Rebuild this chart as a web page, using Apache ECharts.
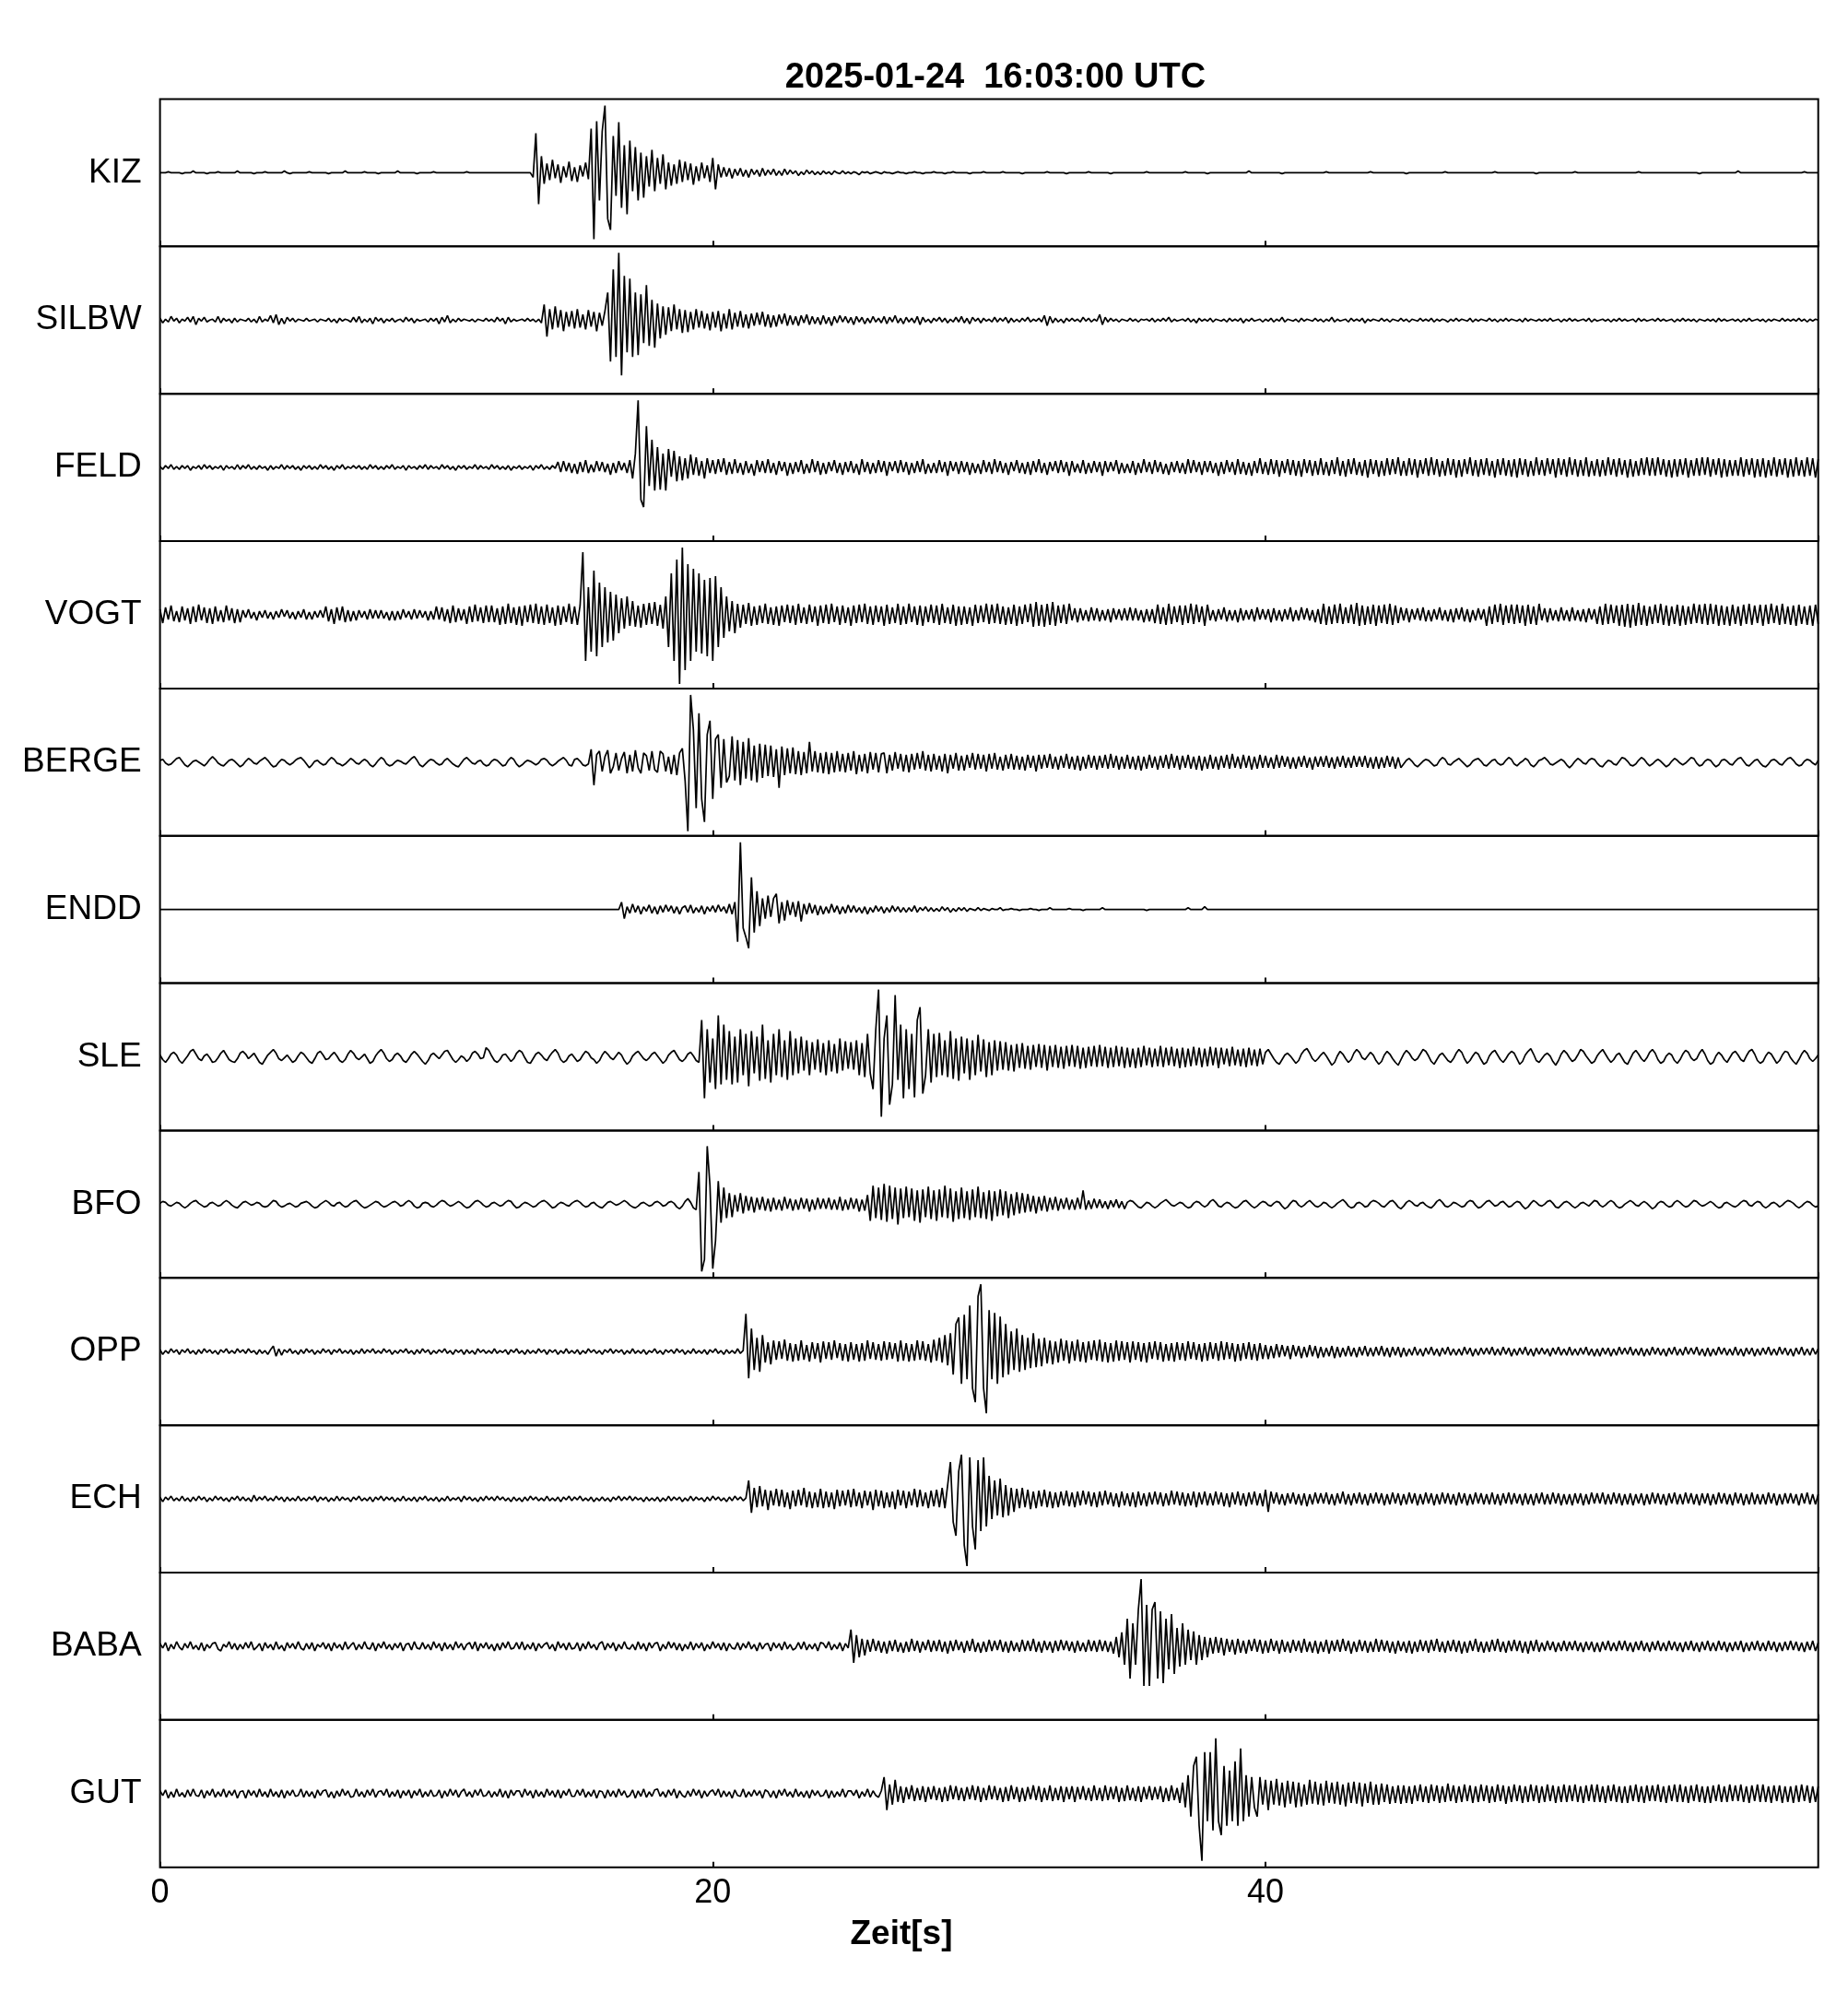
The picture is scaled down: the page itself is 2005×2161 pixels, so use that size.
<!DOCTYPE html>
<html><head><meta charset="utf-8">
<script src="https://cdn.jsdelivr.net/npm/echarts@6/dist/echarts.min.js"></script>
<style>html,body{margin:0;padding:0;background:#fff}#c{width:2005px;height:2161px}</style>
</head><body><div id="c"></div>
<script>
// ---- data: one value per 0.1 s (one line = 1 s), amplitude in panel units (-80..80) ----
const stations = ['KIZ','SILBW','FELD','VOGT','BERGE','ENDD','SLE','BFO','OPP','ECH','BABA','GUT'];
const xTickLabels = ['0','20','40'];
const DT = 0.1;

const KIZ = [
0,0,0,1,0,0,0,0,-1,0,
0,0,2,0,0,0,0,-1,0,0,
0,1,0,0,0,0,0,0,2,0,
0,0,0,0,-1,0,0,0,1,0,
0,0,0,0,0,2,0,-1,0,0,
0,0,0,0,1,0,0,0,0,0,
0,-1,0,0,0,0,0,2,0,0,
0,0,0,0,1,0,0,0,0,-1,
0,0,0,0,0,0,2,0,0,0,
0,0,0,-1,0,0,0,0,0,1,
0,0,0,0,0,0,0,0,0,0,
0,1,0,0,0,0,0,0,0,0,
0,0,0,0,0,0,0,0,0,0,
0,0,0,0,0,-5,43,-34,18,-12,
10,-8,14,-6,9,-11,7,-5,12,-9,
6,-10,8,-4,11,-7,48,-72,56,-30,
45,73,-50,-62,40,-25,55,-38,30,-45,
35,-20,28,-30,22,-27,18,-15,25,-20,
16,-12,20,-18,11,-14,9,-12,14,-10,
12,-8,10,-13,7,-9,11,-6,8,-10,
16,-18,9,-5,6,-4,5,-6,4,-3,
5,-4,3,-5,4,-2,3,-4,5,-3,
3,-2,4,-3,2,-3,4,-2,3,-1,
2,-3,1,-2,3,-1,2,-2,1,-2,
2,-1,1,-2,2,0,-1,2,-1,1,
-1,1,0,-2,1,0,1,-1,0,1,
0,-1,1,0,0,-1,0,1,0,0,
-1,0,0,1,0,0,-1,0,0,0,
1,0,0,0,-1,0,0,1,0,0,
0,0,0,-1,0,0,0,0,1,0,
0,0,0,0,0,1,0,0,0,0,
0,0,-1,0,0,0,0,0,0,0,
0,1,0,0,0,0,0,0,-1,0,
0,0,0,0,0,0,1,0,0,0,
0,0,0,0,-1,0,0,0,0,0,
0,0,0,0,0,0,0,1,0,0,
0,0,0,0,0,0,0,0,0,0,
0,1,0,0,0,0,0,0,0,-1,
0,0,0,0,0,0,0,0,0,0,
0,0,0,0,2,0,0,0,0,0,
0,0,0,0,0,0,-1,0,0,0,
0,0,0,0,0,0,0,0,0,0,
0,0,1,0,0,0,0,0,0,0,
0,0,0,0,0,0,0,0,1,0,
0,0,0,0,0,0,0,0,0,0,
0,-1,0,0,0,0,0,0,0,0,
0,0,0,0,0,1,0,0,0,0,
0,0,0,0,0,0,0,0,0,0,
0,0,0,1,0,0,0,0,0,0,
0,0,0,0,0,0,0,0,-1,0,
0,0,0,0,0,0,0,0,0,0,
0,0,1,0,0,0,0,0,0,0,
0,0,0,0,0,0,0,0,0,0,
0,0,0,0,0,1,0,0,0,0,
0,0,0,0,0,0,0,0,0,0,
0,0,0,0,0,0,0,-1,0,0,
0,0,0,0,0,0,0,0,0,0,
0,2,0,0,0,0,0,0,0,0,
0,0,0,0,0,0,0,0,0,0,
0,0,0,0,0,1,0,0,0,0,
0];
const SILBW = [
2,-3,1,-2,4,-1,2,-3,1,-1,
3,-2,4,-5,2,-1,3,-2,0,1,
-2,4,-3,2,-1,1,-3,2,-2,1,
0,-1,2,-2,1,-3,4,-2,1,-1,
5,-3,6,-5,2,-4,3,-1,2,-2,
1,0,-1,2,-1,0,1,-2,1,0,
-1,2,-2,1,-3,2,-1,1,0,-2,
3,-2,4,-3,1,-2,2,-4,3,-1,
2,-3,1,-1,2,-2,0,1,-2,3,
-1,2,-3,1,-1,0,1,-2,2,-1,
2,-4,3,-2,5,-3,1,-2,2,-1,
1,0,-1,1,-2,1,0,-1,2,-1,
1,-2,3,-1,2,-4,3,-2,1,-1,
0,1,-1,2,-1,1,-2,1,-3,17,
-18,12,-10,15,-8,11,-12,9,-7,10,
-9,12,-8,6,-10,11,-7,9,-12,8,
-6,10,30,-45,55,-40,73,-60,48,-35,
45,-40,30,-38,28,-25,38,-28,22,-30,
18,-20,15,-16,14,-12,17,-10,12,-14,
11,-13,9,-10,12,-8,10,-9,7,-11,
9,-8,10,-12,7,-9,12,-10,8,-7,
10,-8,6,-9,7,-6,8,-5,9,-7,
6,-8,5,-7,6,-4,7,-6,5,-5,
4,-6,5,-3,6,-5,4,-4,3,-5,
5,-4,3,-6,4,-3,5,-2,4,-3,
3,-5,4,-2,3,-4,2,-3,4,-2,
2,-3,4,-4,3,-2,5,-3,2,-4,
3,-2,2,-3,4,-5,3,-2,1,-3,
2,-1,3,-2,2,-3,1,-2,3,-2,
4,-3,2,-4,3,-1,2,-3,2,-1,
1,-2,3,-2,2,-1,3,-3,2,-2,
1,-2,2,-1,3,-2,1,-1,2,-2,
5,-6,4,-3,2,-2,1,-3,2,-1,
2,-1,1,-2,3,-1,2,-2,1,-1,
6,-5,3,-2,2,-1,1,-2,1,0,
-1,2,-1,1,-2,1,0,1,-1,2,
-2,1,-1,2,-1,3,-2,1,-1,0,
1,-1,2,-2,1,-3,2,-1,1,-1,
2,-2,1,0,-1,1,-2,2,-1,1,
-1,2,-3,1,-1,2,-1,0,1,-2,
1,-1,2,-2,1,-1,3,-2,1,0,
-1,1,-2,2,-1,1,0,-1,2,-1,
1,-2,1,-1,3,-2,1,-1,0,1,
-2,2,-1,1,-1,2,-3,1,-1,1,
0,-1,2,-1,1,-2,1,0,-1,2,
-1,1,-2,1,0,-1,2,-1,1,-1,
2,-2,1,-1,1,0,-2,1,-1,2,
-1,1,0,-1,2,-2,1,-1,1,0,
-1,2,-1,1,-2,1,-1,2,-1,1,
0,-1,1,-2,2,-1,1,0,-1,1,
-1,1,-1,2,-1,0,1,-2,1,-1,
2,-1,1,-1,0,1,-1,2,-2,1,
-1,0,1,-1,1,-2,1,-1,2,-1,
1,-1,0,1,-2,2,-1,1,-1,0,
1,-1,2,-1,1,-1,0,1,-2,1,
-1,2,-1,1,-1,1,-2,1,0,-1,
1,-1,1,-2,2,-1,1,-1,0,1,
-1,1,-2,1,-1,2,-1,0,1,-1,
1,-2,1,-1,1,0,-1,2,-1,1,
-1,1,-1,2,-1,1,-2,1,-1,1,
0];
const FELD = [
1,-2,2,-1,3,-2,1,-2,2,-1,
2,-3,1,-1,2,-2,3,-1,2,-2,
1,-1,2,-3,2,-1,1,-2,3,-2,
2,-1,3,-2,1,-2,2,-1,1,-3,
2,-2,1,-1,3,-2,2,-1,2,-2,
1,-3,2,-1,2,-2,1,-2,3,-1,
2,-2,1,-3,2,-1,3,-2,1,-1,
2,-1,2,-2,1,-2,3,-1,2,-2,
1,-2,2,-1,3,-2,1,-1,2,-3,
2,-1,1,-2,2,-1,3,-2,2,-1,
1,-2,3,-1,2,-2,1,-3,2,-1,
2,-2,1,-1,3,-2,2,-1,1,-2,
3,-1,2,-2,1,-2,2,-3,1,-1,
2,-2,1,-1,2,-3,2,-1,3,-2,
1,-2,2,-1,6,-5,7,-4,5,-6,
4,-7,6,-5,8,-6,3,-5,7,-4,
6,-5,4,-8,5,-6,7,-3,5,-6,
8,-12,15,73,-35,-43,45,-20,30,-25,
22,-24,15,-25,20,-10,18,-15,12,-14,
10,-12,14,-8,11,-9,7,-12,10,-6,
8,-7,9,-5,10,-8,6,-7,9,-6,
5,-8,7,-6,4,-9,8,-5,7,-6,
9,-6,5,-8,7,-4,6,-9,5,-7,
6,-5,8,-7,4,-6,9,-5,7,-8,
5,-7,6,-4,8,-6,5,-8,6,-5,
7,-6,4,-8,9,-5,6,-7,5,-6,
8,-5,7,-9,6,-4,7,-6,8,-5,
6,-8,5,-6,7,-5,9,-7,4,-6,
5,-6,8,-5,6,-9,7,-4,6,-7,
7,-5,6,-8,5,-6,4,-7,8,-5,
6,-7,9,-5,7,-6,5,-8,6,-4,
8,-6,5,-7,6,-8,7,-5,9,-6,
5,-8,6,-4,7,-6,8,-5,6,-9,
7,-5,4,-6,8,-7,5,-6,7,-5,
6,-9,7,-5,6,-4,8,-7,5,-6,
4,-6,7,-8,5,-6,9,-5,6,-7,
8,-5,6,-7,4,-8,6,-5,7,-6,
5,-7,9,-6,8,-5,6,-8,7,-5,
7,-6,5,-9,6,-7,8,-5,6,-8,
9,-7,6,-8,5,-9,7,-6,10,-7,
6,-8,9,-7,8,-10,7,-6,9,-8,
8,-9,7,-10,9,-6,8,-9,7,-8,
10,-8,6,-9,8,-7,11,-9,7,-10,
9,-7,10,-8,6,-9,8,-11,9,-7,
8,-10,7,-9,10,-8,9,-7,11,-9,
7,-9,10,-8,9,-11,8,-7,10,-9,
11,-8,9,-10,7,-9,10,-8,9,-11,
8,-10,9,-7,11,-9,8,-10,9,-8,
10,-9,7,-11,9,-8,10,-9,8,-10,
9,-11,10,-8,9,-10,7,-9,11,-8,
8,-9,10,-7,9,-11,10,-8,9,-10,
11,-8,9,-10,8,-9,11,-10,7,-9,
9,-10,8,-9,11,-8,9,-10,10,-8,
8,-11,9,-10,7,-9,10,-8,11,-9,
10,-9,11,-8,9,-10,8,-11,9,-10,
9,-8,10,-11,8,-9,10,-9,11,-8,
11,-10,9,-8,10,-11,9,-10,8,-9,
8,-9,11,-10,9,-8,10,-11,9,-10,
10,-11,8,-9,11,-10,9,-8,10,-11,
9,-10,11,-9,8,-10,11,-9,10,-11,
9];
const VOGT = [
6,-9,8,-5,10,-7,4,-8,9,-6,
7,-10,9,-8,11,-6,8,-9,7,-10,
9,-7,5,-8,10,-6,7,-9,6,-8,
5,-3,6,-4,3,-6,4,-3,5,-4,
3,-5,4,-3,6,-2,5,-4,3,-5,
4,-3,6,-5,3,-5,4,-3,5,-3,
9,-7,6,-10,8,-6,9,-8,5,-7,
4,-6,5,-3,4,-5,6,-4,5,-4,
5,-4,3,-6,4,-6,4,-5,6,-3,
4,-5,6,-4,5,-3,4,-6,4,-5,
9,-5,8,-7,6,-9,10,-8,7,-6,
6,-10,9,-8,11,-7,8,-9,10,-8,
10,-8,7,-11,9,-10,12,-9,8,-11,
9,-12,10,-8,11,-9,12,-10,9,-11,
11,-9,8,-12,10,-11,9,-8,12,-10,
9,-11,10,68,-50,30,-40,48,-45,35,
-35,30,-30,25,-28,22,-20,18,-15,20,
-12,15,-13,10,-14,12,-11,13,-10,14,
-12,11,-15,20,-35,45,-50,60,-75,73,
-60,55,-50,50,-40,45,-42,38,-45,40,
-50,42,-35,30,-25,20,-18,15,-20,12,
-14,11,-10,13,-12,9,-11,10,-9,12,
-10,8,-11,9,-12,10,-8,11,-9,10,
-11,12,-9,8,-10,11,-8,9,-12,10,
-9,11,-10,12,-8,9,-11,10,-9,8,
-12,10,-9,11,-8,12,-10,9,-11,10,
-8,9,-12,11,-10,8,-9,12,-11,9,
-10,12,-8,9,-11,10,-12,9,-8,11,
-9,10,-11,12,-9,8,-10,11,-12,9,
-11,9,-10,8,-12,11,-9,10,-8,12,
-10,11,-9,12,-10,9,-11,8,-10,11,
-12,9,-10,11,-8,12,-13,14,-12,11,
-13,12,-11,14,-12,10,-9,11,-10,12,
-6,7,-8,7,-6,5,-7,8,-6,7,
-7,5,-6,6,-8,7,-5,6,-6,7,
-6,8,-6,7,-6,5,-8,6,-7,6,
-9,11,-10,8,-11,12,-10,9,-8,10,
-11,10,-9,12,-10,11,-8,9,-12,11,
-6,5,-7,6,-5,8,-7,5,-6,5,
-8,7,-6,5,-5,6,-7,8,-5,6,
-5,6,-8,7,-6,5,-7,6,-5,8,
-7,5,-6,8,-5,7,-6,5,-8,6,
-10,12,-11,9,-10,11,-9,12,-10,8,
-9,11,-10,13,-12,10,-11,9,-10,11,
-12,10,-9,11,-10,12,-11,10,-9,8,
-6,7,-8,6,-5,7,-6,8,-7,5,
-7,6,-5,8,-6,5,-7,6,-8,7,
-5,8,-7,6,-8,5,-6,7,-5,6,
-12,9,-10,11,-8,12,-11,10,-9,11,
-10,11,-9,10,-12,11,-10,9,-11,12,
-6,7,-8,7,-6,5,-7,8,-6,5,
-7,8,-6,5,-7,6,-8,7,-5,6,
-10,9,-11,12,-10,11,-9,10,-12,11,
-13,12,-14,11,-12,13,-11,10,-12,9,
-10,11,-9,12,-11,10,-12,9,-10,11,
-12,10,-11,9,-10,12,-9,11,-10,12,
-11,12,-10,11,-12,10,-11,9,-12,11,
-10,9,-12,11,-10,12,-11,10,-9,11,
-12,11,-10,12,-9,10,-11,12,-10,9,
-11,10,-12,11,-10,9,-11,10,-12,11,
-10];
const BERGE = [
2,3,-1,-3,-2,1,4,5,1,-3,
-5,-2,1,2,0,-2,-4,-1,3,6,
3,-1,-3,-4,-1,2,3,1,-2,-5,
-3,1,4,2,-1,-2,1,3,5,2,
-2,-5,-4,0,3,2,-1,-3,-1,2,
4,5,2,-2,-6,-3,1,2,-1,-3,
-2,2,5,3,-1,-2,-4,-2,1,4,
2,-1,-2,1,3,1,-3,-5,-2,2,
5,3,-2,-4,-3,0,2,1,-1,-2,
1,4,6,2,-3,-5,-2,1,3,2,
-1,-3,-2,2,4,1,-2,-4,-5,-1,
3,5,2,-1,-2,1,2,-2,-4,-3,
1,3,2,-1,-4,-3,2,5,3,-2,
-5,-3,0,2,1,-1,-3,-1,3,4,
2,-2,-4,-2,1,3,5,2,-3,-4,
3,4,1,-3,-4,-2,14,-25,8,12,
-10,6,13,-12,-5,10,-9,4,11,-12,
8,-10,13,-6,-12,10,7,-9,12,-8,
-11,12,9,-10,6,-13,8,-14,10,15,
-20,-75,73,35,-50,53,-40,-65,30,45,
-40,25,30,-28,25,-22,-15,28,-20,24,
-25,22,-18,26,-20,18,-22,20,-17,19,
-15,18,-16,14,-28,17,-14,15,-12,16,
-13,12,-14,11,-12,22,-10,12,-11,10,
-12,11,-13,10,-11,12,-10,9,-11,10,
-9,12,-13,8,-10,9,-12,11,-8,10,
-11,9,10,-12,8,-9,11,-7,9,-10,
8,-11,9,-8,10,-7,12,-9,8,-10,
9,-8,7,-10,9,-12,8,-7,10,-9,
7,-9,8,-6,10,-8,9,-7,8,-10,
9,-7,10,-8,6,-9,8,-7,9,-8,
7,-8,6,-9,8,-6,7,-10,8,-7,
8,-6,9,-7,6,-8,7,-6,9,-7,
6,-8,7,-9,6,-7,8,-6,7,-8,
7,-6,8,-7,9,-6,7,-8,6,-7,
8,-7,6,-8,7,-9,6,-7,8,-6,
6,-8,7,-6,8,-7,9,-6,7,-8,
7,-6,8,-7,6,-8,7,-9,6,-7,
8,-7,6,-8,7,-6,8,-7,9,-6,
6,-7,8,-6,7,-8,6,-7,8,-6,
7,-6,5,-7,8,-6,7,-5,6,-7,
5,-7,6,-5,7,-6,5,-8,6,-5,
6,-5,7,-6,5,-7,6,-5,7,-6,
5,-6,7,-5,6,-5,7,-6,5,-7,
6,-7,5,-6,7,-5,6,-7,5,-6,
-2,2,4,1,-3,-5,-2,1,3,2,
-1,-4,-3,2,5,3,-2,-3,0,2,
4,1,-2,-5,-3,1,3,4,1,-3,
-4,-1,2,3,-1,-3,-2,2,5,3,
-2,-4,-1,1,4,2,-3,-5,-2,2,
3,5,2,-2,-3,-1,1,3,1,-3,
-6,-3,1,4,2,-1,-2,2,4,3,
-1,-4,-5,-1,2,1,-2,-3,1,5,
4,1,-3,-4,-2,2,5,3,-1,-4,
-2,1,3,1,-2,-5,-3,1,4,2,
-1,-3,-1,2,5,4,-1,-4,-3,1,
3,2,-2,-5,-3,2,3,1,-2,-3,
1,4,5,1,-3,-4,-1,2,3,-1,
-4,-5,-2,2,3,1,-2,-3,1,4,
5,2,-2,-4,-3,1,3,2,-1,-3,
2];
const ENDD = [
0,0,0,0,0,0,0,0,0,0,
0,0,0,0,0,0,0,0,0,0,
0,0,0,0,0,0,0,0,0,0,
0,0,0,0,0,0,0,0,0,0,
0,0,0,0,0,0,0,0,0,0,
0,0,0,0,0,0,0,0,0,0,
0,0,0,0,0,0,0,0,0,0,
0,0,0,0,0,0,0,0,0,0,
0,0,0,0,0,0,0,0,0,0,
0,0,0,0,0,0,0,0,0,0,
0,0,0,0,0,0,0,0,0,0,
0,0,0,0,0,0,0,0,0,0,
0,0,0,0,0,0,0,0,0,0,
0,0,0,0,0,0,0,0,0,0,
0,0,0,0,0,0,0,0,0,0,
0,0,0,0,0,0,0,0,0,0,
0,0,0,0,0,0,0,8,-10,3,
-4,6,-3,4,-5,3,-2,5,-4,3,
-5,4,-3,5,-2,4,-4,3,-5,2,
4,-3,5,-4,2,-3,4,-5,3,-2,
4,-3,5,-2,3,-4,6,-5,8,-35,
73,-20,-30,-42,35,-25,20,-18,12,-10,
15,-8,12,17,-15,8,-12,10,-6,8,
-8,9,-13,6,-5,7,-4,5,-6,4,
-5,3,-4,6,-3,4,-5,3,-4,5,
-3,4,-3,2,-4,3,-5,2,-3,4,
-2,3,-4,2,-3,4,-2,3,-3,2,
-3,2,-2,4,-3,2,-1,3,-2,2,
-2,1,-2,3,-1,2,-3,1,-2,2,
-1,2,-2,1,0,-1,2,-1,1,0,
-1,1,0,0,2,-1,0,0,1,0,
0,-1,0,0,0,1,0,0,-1,0,
0,0,2,0,0,0,0,0,0,1,
0,0,0,0,-1,0,0,0,0,0,
0,2,0,0,0,0,0,0,0,0,
0,0,0,0,0,0,0,-1,0,0,
0,0,0,0,0,0,0,0,0,0,
0,0,2,0,0,0,0,0,3,0,
0,0,0,0,0,0,0,0,0,0,
0,0,0,0,0,0,0,0,0,0,
0,0,0,0,0,0,0,0,0,0,
0,0,0,0,0,0,0,0,0,0,
0,0,0,0,0,0,0,0,0,0,
0,0,0,0,0,0,0,0,0,0,
0,0,0,0,0,0,0,0,0,0,
0,0,0,0,0,0,0,0,0,0,
0,0,0,0,0,0,0,0,0,0,
0,0,0,0,0,0,0,0,0,0,
0,0,0,0,0,0,0,0,0,0,
0,0,0,0,0,0,0,0,0,0,
0,0,0,0,0,0,0,0,0,0,
0,0,0,0,0,0,0,0,0,0,
0,0,0,0,0,0,0,0,0,0,
0,0,0,0,0,0,0,0,0,0,
0,0,0,0,0,0,0,0,0,0,
0,0,0,0,0,0,0,0,0,0,
0,0,0,0,0,0,0,0,0,0,
0,0,0,0,0,0,0,0,0,0,
0,0,0,0,0,0,0,0,0,0,
0,0,0,0,0,0,0,0,0,0,
0];
const SLE = [
2,-3,-6,-2,3,5,2,-4,-7,-3,
1,6,8,3,-2,-4,1,3,-1,-6,
-5,-1,4,7,2,-3,-5,-6,-2,4,
6,3,-2,1,4,-1,-6,-8,-3,2,
5,8,4,-2,-4,-1,2,-2,-6,-4,
1,5,3,-1,-5,-7,-2,4,6,2,
-3,-2,2,5,1,-4,-6,-3,3,7,
4,-1,-3,0,3,-2,-7,-5,1,5,
8,4,-2,-5,-3,2,4,1,-4,-6,
-2,3,6,3,-1,-5,-8,-4,2,4,
1,-2,2,6,7,2,-3,-6,-3,1,
-1,-5,-2,4,6,3,-2,-1,10,7,
1,-4,-6,-3,2,3,-1,-5,-2,4,
7,5,-1,-6,-7,-2,3,5,2,-2,
-4,1,5,8,4,-3,-6,-4,1,3,
-1,-5,-3,2,6,4,-1,-3,-7,-4,
2,6,3,-1,-3,1,5,2,-4,-8,
-5,1,4,6,2,-2,-4,-1,3,5,
1,-3,-7,-4,2,5,7,2,-3,-5,
-2,3,5,1,-4,-6,40,-45,30,-28,
20,-35,45,-30,35,-25,28,-30,22,-28,
30,-20,25,-32,28,-18,22,-26,35,-24,
18,-28,25,-20,30,-22,18,-25,28,-20,
20,-18,22,-15,18,-20,16,-14,19,-17,
15,-20,18,-16,14,-18,20,-15,17,-13,
16,-14,18,-20,15,-22,25,-18,-35,30,
73,-65,20,45,-52,-30,67,-25,35,-45,
30,-35,25,-44,40,54,-40,-20,30,-28,
25,-22,26,-20,18,-22,28,-24,20,-26,
22,-18,20,-25,18,-20,24,-16,19,-22,
16,-20,18,-15,17,-14,16,-15,13,-16,
14,-12,15,-13,12,-14,13,-11,14,-12,
13,-15,12,-11,13,-12,11,-13,12,-10,
13,-11,12,-13,10,-12,11,-10,12,-11,
13,-10,11,-12,10,-11,12,-10,11,-12,
10,-11,9,-12,10,-11,12,-9,10,-11,
9,-10,12,-11,10,-9,11,-10,9,-12,
10,-11,9,-10,11,-9,10,-11,9,-10,
11,-9,10,-12,10,-8,9,-10,11,-9,
8,-10,9,-11,10,-9,8,-10,9,-8,
5,8,3,-2,-6,-8,-3,2,4,1,
-3,-7,-4,3,7,9,4,-2,-5,-2,
2,5,1,-4,-9,-6,1,6,3,-2,
-6,-3,4,8,5,-1,-3,1,5,2,
-4,-8,-5,2,6,3,-2,-6,-9,-3,
3,7,4,-1,-4,-2,3,8,6,1,
-5,-8,-3,2,4,0,-4,-6,-2,4,
8,5,-2,-7,-4,1,5,3,-3,-8,
-6,1,5,7,2,-3,-6,-2,3,6,
4,-2,-8,-5,2,6,9,3,-4,-6,
-2,2,4,1,-5,-9,-4,3,7,4,
-1,-5,-3,2,8,6,1,-3,-7,-5,
1,5,8,3,-2,-6,-3,2,4,-1,
-6,-8,-2,4,7,3,-2,-5,-1,5,
8,4,-3,-7,-5,1,4,2,-4,-7,
-3,3,7,5,-1,-4,-2,4,8,3,
-4,-8,-6,1,5,2,-3,-6,-1,4,
6,2,-3,-5,1,6,8,3,-4,-7,
-5,1,5,3,-2,-7,-4,2,6,5,
-1,-5,-8,-3,3,7,4,-2,-5,-2,
2];
const BFO = [
1,3,2,-1,-2,0,2,1,-2,-4,
-2,1,3,4,1,-1,-3,-2,1,2,
0,-2,-1,2,4,2,-1,-3,-4,-1,
2,3,1,-1,0,2,1,-2,-3,-2,
1,4,3,-1,-3,-2,0,1,-1,-3,
-2,1,2,3,1,-2,-4,-3,0,2,
4,2,-1,-2,1,2,-1,-3,-2,1,
3,4,1,-2,-4,-3,-1,1,3,2,
-1,-3,-2,0,2,3,1,-2,-1,2,
4,2,-2,-4,-3,1,2,1,-2,-3,
-1,2,4,3,0,-2,-1,1,3,1,
-2,-4,-3,0,3,4,2,-1,-3,-2,
1,2,0,-2,-1,2,4,3,-1,-4,
-3,0,2,1,-1,-3,-2,1,3,4,
2,-1,-4,-3,0,2,1,-1,-2,1,
3,4,2,-1,-3,-2,1,2,-1,-3,
-4,-1,2,3,1,-1,0,2,4,2,
-1,-3,-4,-2,1,2,0,-2,-1,2,
3,1,-2,-1,2,3,1,-3,-5,-2,
3,6,2,-4,-6,35,-73,-60,63,20,
-70,-40,25,-20,18,-15,12,-14,10,-8,
12,-10,9,-7,8,-9,7,-6,8,-7,
6,-8,7,-6,5,-7,8,-5,6,-7,
5,-6,7,-5,6,-8,5,-6,7,-5,
6,-5,7,-6,5,-6,8,-7,5,-6,
7,-5,6,-8,5,-7,10,-18,20,-15,
18,-17,22,-19,20,-16,18,-22,17,-15,
19,-14,17,-18,15,-20,16,-14,19,-16,
15,-18,16,-14,20,-15,17,-19,14,-16,
18,-15,14,-17,16,-14,19,-15,13,-16,
15,-18,14,-13,16,-12,14,-15,11,-12,
13,-10,12,-9,11,-8,9,-10,8,-7,
9,-8,7,-6,8,-7,6,-5,7,-6,
5,-6,7,-5,15,-6,4,-5,6,-4,
5,-4,3,-5,4,-3,5,-4,3,-5,
2,4,3,0,-3,-4,-1,2,1,-2,
-4,-2,1,3,5,2,-1,-2,0,2,
1,-2,-4,-3,1,3,2,-1,-3,-1,
3,5,2,-2,-3,0,2,1,-2,-4,
-3,0,3,4,1,-2,-4,-2,1,3,
2,-1,-2,1,3,2,-2,-5,-3,1,
4,3,-1,-3,-1,2,4,1,-2,-3,
-1,2,1,-2,-4,-2,1,3,5,2,
-2,-4,-3,1,2,0,-3,-2,2,4,
3,1,-2,-3,0,3,4,1,-3,-5,
-2,2,4,2,-1,-2,1,2,-1,-3,
-4,-1,3,5,2,-2,-3,-1,2,1,
-1,-3,-2,2,4,3,-1,-4,-3,0,
3,4,1,-2,-1,2,3,0,-3,-2,
1,3,2,-2,-5,-3,1,4,2,-1,
-2,0,3,4,1,-3,-4,-1,2,3,
1,-2,-4,-2,1,2,0,-2,1,4,
3,-1,-3,-1,2,4,2,-2,-4,-3,
0,2,4,2,-1,-2,1,3,1,-2,
-5,-3,1,3,2,-1,-3,-2,2,4,
2,-1,-3,-2,1,4,3,0,-2,-1,
1,3,1,-2,-4,-3,1,2,0,-2,
-3,-1,2,4,3,-1,-2,1,3,2,
-2,-4,-2,1,2,0,-3,-1,2,4,
3,1,-2,-4,-2,1,3,2,-1,-3,
-2];
const OPP = [
2,-3,1,-2,3,-1,2,-3,2,-1,
3,-2,1,-3,2,-2,3,-1,2,-2,
1,-3,2,-1,3,-2,1,-2,3,-1,
2,-2,3,-1,1,-3,2,-2,1,-3,
2,6,-5,3,-4,2,-1,3,-2,1,
-3,2,-2,3,-1,2,-3,1,-2,3,
-1,2,-3,2,-1,3,-2,1,-2,2,
-3,1,-2,3,-2,2,-1,3,-2,1,
-2,3,-1,2,-3,1,-2,2,-1,3,
-2,1,-3,2,-2,3,-1,2,-3,1,
-2,2,-1,3,-2,1,-3,2,-1,2,
-3,2,-2,1,-3,3,-1,2,-2,1,
-2,3,-2,1,-1,2,-3,2,-1,3,
-2,1,-3,2,-2,1,-2,3,-1,2,
-3,2,-1,2,-3,1,-2,3,-2,1,
-2,2,-3,1,-2,3,-1,2,-2,1,
-3,2,-1,3,-2,2,-1,2,-3,1,
-2,3,-2,1,-2,2,-3,1,-1,3,
-2,1,-3,2,-1,2,-2,3,-1,2,
-3,1,-2,3,-2,1,-2,2,-3,2,
-1,3,-2,1,-3,2,-2,1,-2,3,
-2,1,41,-29,25,-20,15,-22,18,-12,
10,-14,12,-9,11,-8,13,-10,9,-11,
8,-10,12,-9,7,-11,10,-8,9,-12,
11,-8,10,-9,12,-7,9,-10,8,-11,
10,-9,8,-11,9,-10,12,-8,10,-9,
8,-10,11,-9,10,-8,9,-11,12,-10,
9,-11,8,-10,12,-9,11,-10,8,-12,
13,-10,15,-12,18,-15,20,-25,30,37,
-35,40,-30,50,-40,-55,60,73,-40,-67,
45,-30,42,-35,38,-28,30,-25,22,-20,
25,-22,18,-20,15,-18,20,-17,14,-16,
15,-13,12,-14,11,-12,14,-10,12,-13,
11,-10,13,-11,10,-12,11,-9,12,-10,
13,-11,10,-12,9,-11,12,-10,11,-9,
10,-12,11,-9,10,-11,9,-12,10,-8,
11,-9,10,-11,8,-10,9,-11,10,-9,
9,-10,11,-8,10,-9,8,-11,9,-10,
10,-8,9,-10,11,-9,10,-8,9,-11,
8,-10,9,-8,10,-9,8,-10,9,-8,
7,-8,6,-7,8,-6,7,-5,6,-8,
7,-5,6,-7,5,-6,7,-5,6,-7,
5,-6,4,-5,6,-7,5,-6,4,-5,
6,-5,4,-6,5,-4,6,-5,4,-5,
5,-4,6,-5,4,-6,5,-4,5,-6,
4,-5,3,-4,5,-4,3,-5,4,-3,
5,-4,3,-5,4,-3,5,-4,3,-4,
3,-4,5,-3,4,-5,3,-4,4,-3,
4,-3,5,-4,3,-4,5,-3,4,-5,
3,-4,4,-3,5,-4,3,-5,4,-3,
4,-3,3,-5,4,-3,5,-4,3,-4,
5,-4,3,-4,4,-3,5,-4,3,-5,
3,-5,4,-3,4,-5,3,-4,5,-3,
4,-3,5,-4,3,-4,4,-5,3,-4,
5,-3,4,-4,3,-5,4,-3,5,-4,
3,-4,5,-3,4,-3,5,-4,3,-5,
4,-5,3,-4,5,-3,4,-4,3,-4,
5,-4,3,-5,4,-3,4,-5,3,-4,
4,-3,5,-4,3,-4,5,-3,4,-4,
3,-5,4,-3,5,-4,3,-4,4,-3,
3];
const ECH = [
2,-3,2,-1,3,-2,1,-2,3,-2,
1,-3,2,-2,3,-1,2,-3,1,-2,
3,-1,2,-2,1,-3,2,-1,3,-2,
2,-2,1,-3,4,-2,2,-1,3,-2,
1,-2,3,-1,2,-3,2,-2,1,-2,
3,-2,1,-2,2,-1,3,-3,2,-1,
2,-3,1,-2,3,-2,2,-1,1,-3,
2,-1,3,-2,1,-2,2,-3,2,-1,
3,-2,2,-1,2,-3,1,-2,3,-2,
1,-2,2,-3,2,-1,3,-2,1,-2,
2,-3,1,-2,3,-2,1,-1,2,-3,
3,-1,2,-2,1,-3,2,-2,3,-1,
2,-2,3,-1,2,-2,1,-3,2,-2,
1,-3,2,-2,3,-1,2,-2,1,-2,
3,-2,1,-2,2,-3,2,-1,3,-2,
2,-1,3,-2,1,-2,2,-3,1,-2,
2,-2,1,-3,2,-1,3,-2,2,-1,
3,-2,2,-1,1,-3,2,-2,1,-2,
2,-3,1,-2,3,-2,2,-1,2,-3,
1,-2,3,-2,2,-1,1,-3,2,-2,
3,-1,2,-2,1,-3,2,-2,3,-1,
2,-2,1,20,-15,12,-9,14,-8,10,
-12,9,-7,11,-8,10,-9,7,-11,9,
-8,10,-7,12,-9,8,-10,7,-9,11,
-10,8,-9,7,-11,10,-8,9,-7,10,
-9,11,-8,7,-10,9,-7,8,-12,10,
-8,9,-10,7,-9,8,-11,10,-7,9,
-10,8,-7,11,-9,10,-8,7,-10,9,
-8,10,-9,12,-10,15,40,-25,-40,30,
48,-50,-73,45,-30,-55,42,-35,45,-30,
25,-22,20,-18,22,-20,15,-18,12,-14,
11,-10,12,-9,10,-11,8,-10,9,-8,
10,-9,8,-10,7,-9,8,-7,9,-8,
7,-9,8,-7,9,-6,8,-8,7,-9,
8,-7,9,-6,7,-8,6,-9,8,-7,
6,-8,7,-9,8,-7,6,-8,7,-6,
8,-6,7,-8,6,-7,9,-6,8,-7,
7,-8,6,-7,8,-9,7,-6,8,-7,
6,-7,8,-6,7,-8,6,-9,7,-6,
8,-7,6,-8,7,-6,8,-7,6,-8,
10,-14,8,-5,7,-6,5,-7,6,-5,
7,-6,5,-7,6,-8,5,-6,7,-5,
6,-5,7,-6,5,-7,6,-5,8,-6,
5,-7,6,-5,7,-6,5,-7,6,-5,
7,-5,6,-7,5,-6,7,-5,6,-7,
5,-6,7,-5,6,-7,5,-6,7,-5,
6,-7,5,-6,7,-5,6,-6,5,-7,
7,-5,6,-7,5,-6,7,-5,6,-6,
5,-6,7,-6,5,-7,6,-5,7,-6,
6,-5,5,-7,6,-6,5,-7,6,-5,
7,-6,5,-6,7,-5,6,-7,5,-6,
5,-7,6,-5,6,-7,5,-6,7,-5,
6,-5,7,-6,5,-6,7,-5,6,-7,
5,-6,6,-7,5,-5,6,-7,5,-6,
7,-5,6,-6,5,-7,6,-5,7,-6,
5,-6,7,-5,6,-6,5,-7,6,-5,
6,-7,5,-6,7,-5,6,-6,5,-7,
7,-5,6,-7,5,-6,7,-6,5,-6,
5,-6,7,-5,6,-7,5,-6,6,-5,
6,-5,5,-7,6,-5,7,-6,5,-6,
5];
const BABA = [
3,-2,4,-5,2,-3,5,-1,-4,3,
-2,5,-3,1,-4,4,-5,2,-2,3,
4,-3,-5,2,-1,5,-3,3,-4,2,
-3,4,-2,5,-4,-1,3,-5,4,-2,
2,-4,5,-3,1,-5,4,-2,3,-3,
5,-2,-4,3,-3,4,-5,2,-1,4,
-3,3,-5,4,-2,2,-4,5,-3,1,
4,-4,2,-3,5,-2,-3,4,-5,3,
-2,5,-3,2,-4,3,-2,4,-5,2,
3,-4,5,-2,-3,4,-3,2,-4,5,
-2,3,-5,4,-3,2,-4,5,-2,3,
-4,2,4,-3,5,-5,3,-2,4,-3,
2,-5,3,-4,4,-2,5,-3,-2,4,
-3,5,-4,2,-3,4,-5,3,-2,2,
4,-3,2,-5,5,-2,3,-4,4,-3,
-2,4,-5,3,-3,5,-2,2,-4,3,
5,-4,3,-2,4,-5,2,-3,5,-2,
-3,2,-4,5,-3,3,-5,4,-2,3,
4,-5,2,-3,5,-2,4,-4,3,-5,
2,-3,5,-4,3,-2,4,-5,2,-3,
5,-2,3,-4,4,-5,3,-2,-3,4,
-4,3,-2,5,-3,2,-5,4,-3,2,
3,-5,4,-2,3,-4,5,-3,2,-4,
-2,4,-3,5,-4,2,-3,3,-5,4,
3,-2,5,-4,2,-3,4,-5,3,-2,
18,-18,12,-12,8,-10,7,-6,8,-5,
6,-7,5,-8,6,-5,7,-6,4,-7,
5,-6,8,-5,6,-7,5,-4,7,-6,
6,-5,7,-6,5,-8,6,-5,7,-4,
5,-7,6,-5,8,-6,4,-7,5,-6,
7,-5,6,-4,7,-6,5,-7,6,-5,
4,-6,7,-5,6,-5,8,-6,5,-7,
6,-4,5,-7,6,-5,7,-4,6,-5,
5,-7,6,-5,4,-6,7,-5,6,-6,
7,-5,6,-6,5,-8,10,-12,15,-20,
30,-35,25,-20,40,73,-43,45,-43,40,
48,-35,38,-40,30,-25,35,-30,20,-22,
25,-20,18,-15,16,-20,12,-15,10,-12,
9,-8,10,-7,9,-10,8,-6,7,-9,
8,-7,6,-8,7,-5,8,-6,7,-8,
6,-7,8,-5,6,-8,7,-6,5,-7,
7,-5,6,-7,8,-6,5,-7,6,-8,
5,-6,7,-8,6,-5,7,-6,8,-5,
6,-8,5,-6,7,-5,6,-7,5,-6,
8,-6,7,-5,6,-7,5,-8,6,-5,
5,-7,6,-8,5,-6,7,-5,6,-7,
7,-5,8,-6,5,-7,6,-5,7,-6,
6,-8,5,-7,6,-5,8,-6,5,-7,
5,-6,7,-5,8,-6,5,-7,6,-5,
7,-5,6,-7,5,-8,6,-5,7,-6,
4,-5,6,-4,5,-6,4,-5,6,-5,
5,-4,6,-5,4,-6,5,-4,5,-6,
4,-6,5,-4,6,-5,4,-5,6,-4,
6,-5,4,-6,5,-4,6,-5,4,-6,
5,-4,6,-5,4,-5,6,-4,5,-5,
4,-6,5,-4,6,-5,4,-6,5,-4,
6,-5,4,-5,6,-4,5,-6,4,-5,
5,-4,6,-6,4,-5,5,-4,6,-5,
4,-5,6,-4,5,-6,4,-5,5,-4,
6,-4,5,-5,4,-6,5,-4,6,-5,
4];
const GUT = [
3,-2,4,-5,2,-4,5,-3,1,-4,
4,-3,5,-2,-3,4,-5,3,-2,5,
-4,2,-3,5,-4,3,-2,4,-5,2,
3,-5,4,-2,3,-4,5,-3,2,-4,
5,-3,2,-4,4,-5,3,-2,4,-3,
-2,5,-4,3,-3,2,-5,4,-2,3,
4,-4,2,-5,3,-3,5,-2,3,-4,
-3,5,-3,2,-4,4,-2,5,-4,2,
3,-2,5,-4,2,-3,4,-5,3,-2,
4,-5,3,-2,5,-4,2,-3,4,-3,
-2,4,-5,3,-3,5,-2,4,-4,2,
5,-3,2,-4,4,-2,5,-3,-2,3,
-4,2,-3,5,-4,3,-5,4,-2,3,
3,-4,5,-2,3,-5,4,-3,2,-4,
5,-2,3,-4,4,-5,3,-2,5,-3,
-3,4,-2,5,-4,2,-3,4,-5,3,
2,-5,4,-3,3,-4,5,-2,3,-4,
-2,4,-5,3,-3,5,-4,2,-3,4,
5,-3,2,-4,4,-2,5,-5,3,-2,
-4,3,-3,5,-2,4,-5,3,-3,2,
4,-2,5,-4,3,-3,2,-5,4,-2,
-3,5,-4,2,-3,4,-2,3,-5,4,
2,-4,3,-5,4,-2,5,-3,2,-4,
5,-3,2,-4,3,-5,4,-2,3,-3,
-2,4,-5,3,-4,2,-3,5,-4,3,
3,-2,4,-5,2,-3,5,-4,3,-2,
-4,3,18,-18,10,-12,15,-9,8,-10,
7,-6,9,-8,6,-7,8,-9,7,-6,
8,-7,6,-9,7,-8,9,-6,8,-7,
6,-8,7,-6,9,-7,8,-9,6,-7,
9,-6,8,-7,6,-9,7,-8,9,-6,
7,-9,6,-8,7,-6,9,-7,8,-9,
6,-7,9,-8,6,-7,8,-9,7,-6,
8,-9,7,-6,8,-7,6,-8,9,-7,
6,-8,9,-7,7,-6,8,-9,6,-8,
9,-7,6,-8,8,-9,7,-6,8,-7,
7,-6,8,-9,6,-8,9,-7,6,-10,
12,-15,20,-25,30,40,-35,-73,45,-30,
45,-40,60,-30,-45,30,-35,25,-30,35,
-35,49,-30,20,-25,18,-15,-25,18,-12,
15,-18,14,-12,16,-13,12,-15,14,-11,
13,-15,12,-14,10,-12,15,-11,13,-12,
11,-13,14,-10,12,-11,13,-12,10,-14,
12,-10,13,-11,12,-14,11,-10,13,-12,
10,-12,11,-9,10,-11,8,-10,9,-11,
9,-10,8,-11,9,-8,10,-9,8,-10,
10,-8,9,-10,8,-9,11,-8,9,-10,
8,-9,10,-8,9,-10,8,-9,10,-8,
9,-10,8,-9,10,-8,9,-11,8,-9,
10,-8,9,-10,8,-9,10,-8,9,-10,
8,-9,10,-8,9,-10,8,-9,10,-9,
9,-8,10,-9,8,-10,9,-8,10,-9,
10,-9,8,-10,9,-8,10,-9,8,-10,
8,-10,9,-8,10,-9,8,-10,9,-8,
9,-8,10,-9,8,-10,9,-8,10,-9,
10,-9,8,-10,9,-8,10,-9,8,-10,
8,-10,9,-8,10,-9,8,-9,10,-8,
9,-8,10,-9,8,-10,9,-8,10,-9,
10,-9,8,-10,9,-8,9,-10,8,-9,
8,-10,9,-9,10,-8,9,-10,8,-9,
8];

const traces = [KIZ, SILBW, FELD, VOGT, BERGE, ENDD, SLE, BFO, OPP, ECH, BABA, GUT];

// ---- layout ----
const FONT = 'Liberation Sans, Arial, Helvetica, sans-serif';
const PLOT_LEFT = 173.6, PLOT_RIGHT = 32.3, PLOT_TOP = 107.5, PANEL_H = 159.85;
const N = stations.length;

const grids = [], xAxes = [], yAxes = [], series = [];
for (let i = 0; i < N; i++) {
  const last = i === N - 1;
  grids.push({
    left: PLOT_LEFT, right: PLOT_RIGHT, top: PLOT_TOP + i * PANEL_H, height: PANEL_H,
    show: true, borderColor: '#000', borderWidth: 2, backgroundColor: 'transparent',
    containLabel: false, outerBoundsMode: 'none'
  });
  xAxes.push({
    type: 'value', gridIndex: i, min: 0, max: 60, interval: 20, position: 'bottom',
    axisLine: { show: false, onZero: false },
    axisTick: { show: true, inside: true, length: 6, lineStyle: { color: '#000', width: 2 } },
    splitLine: { show: false },
    axisLabel: {
      show: last, showMaxLabel: false, margin: 10, color: '#000', fontSize: 36, fontFamily: FONT,
      formatter: v => (xTickLabels.indexOf(String(v)) >= 0 ? String(v) : '')
    }
  });
  yAxes.push({
    type: 'value', gridIndex: i, min: -80, max: 80,
    axisLine: { show: false }, axisTick: { show: false }, axisLabel: { show: false },
    splitLine: { show: false },
    name: stations[i], nameLocation: 'middle', nameRotate: 0, nameGap: 20,
    nameTextStyle: { color: '#000', fontSize: 37, fontFamily: FONT, align: 'right',
                     verticalAlign: 'middle', padding: [7, 0, 0, 0] }
  });
  series.push({
    type: 'line', xAxisIndex: i, yAxisIndex: i,
    data: traces[i].map((v, j) => [j * DT, v]),
    showSymbol: false, symbol: 'none', silent: true, animation: false,
    lineStyle: { color: '#000', width: 1.7 }
  });
}

const chart = echarts.init(document.getElementById('c'), null, { renderer: 'canvas' });
chart.setOption({
  backgroundColor: '#fff',
  animation: false,
  title: [
    { text: '2025-01-24  16:03:00 UTC', left: 1080, top: 66, textAlign: 'center', padding: 0,
      textStyle: { fontFamily: FONT, fontSize: 38, fontWeight: 'bold', color: '#000' } },
    { text: 'Zeit[s]', left: 978, top: 2080, textAlign: 'center', padding: 0,
      textStyle: { fontFamily: FONT, fontSize: 37, fontWeight: 'bold', color: '#000' } }
  ],
  grid: grids, xAxis: xAxes, yAxis: yAxes, series: series
});
</script></body></html>
